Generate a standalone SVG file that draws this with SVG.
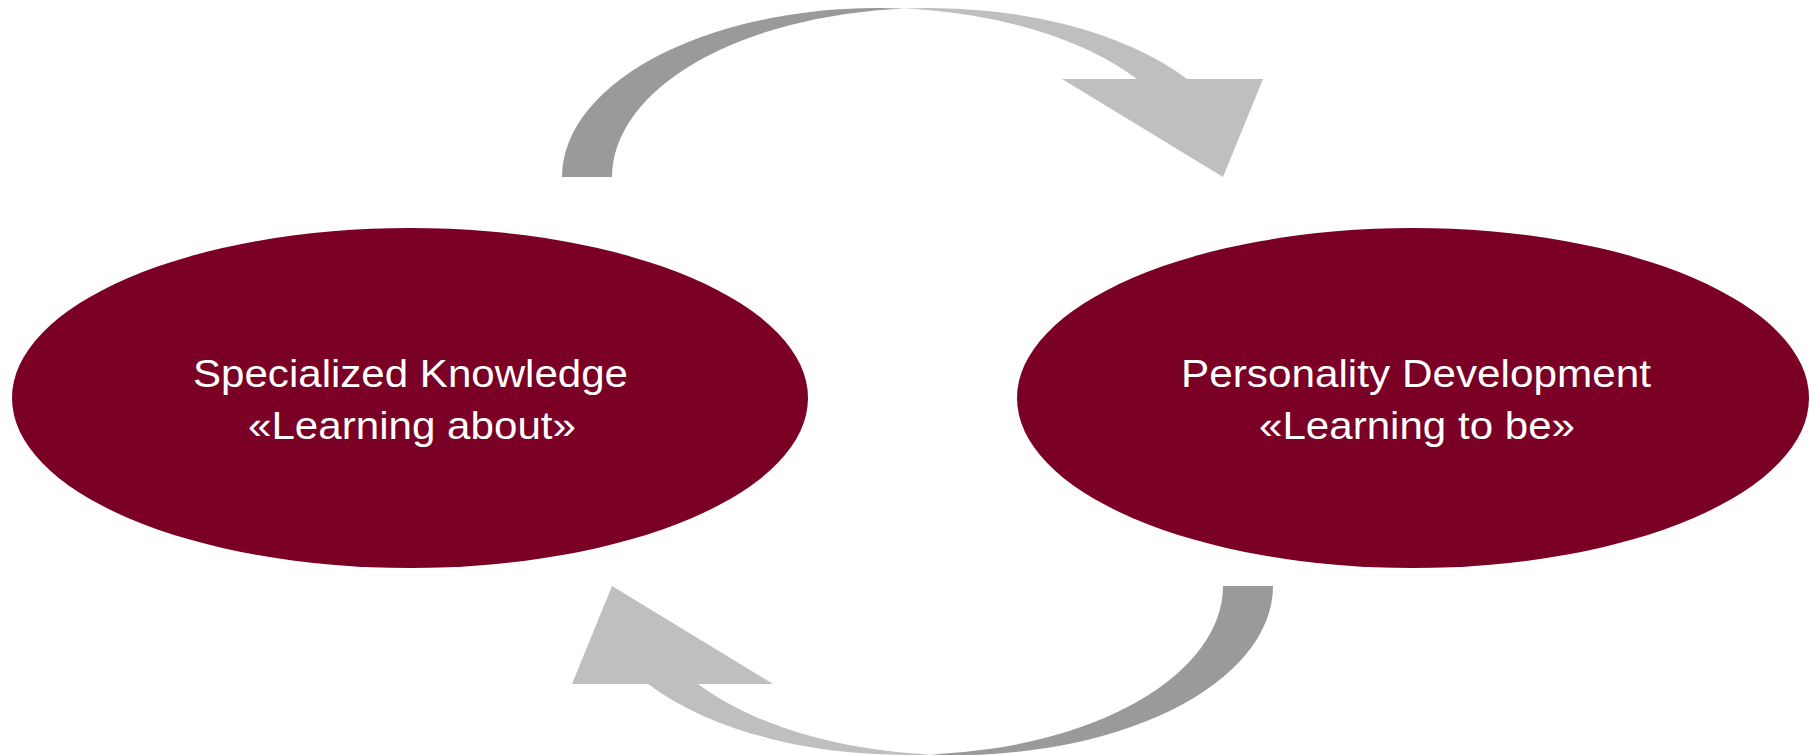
<svg xmlns="http://www.w3.org/2000/svg" width="1810" height="756" viewBox="0 0 1810 756">
  <style>
    .node { fill: #7A0026; }
    .label { font-family: "Liberation Sans", Arial, sans-serif; font-size: 39px; fill: #FFFFFF; text-anchor: middle; }
    .back { fill: #9A9A9A; }
    .front { fill: #BFBFBF; }
  </style>
  <defs>
    <g id="curvedArrow">
      <path class="back" d="M562,177 A316.8,169 0 0 1 903.8,8.5 A316.8,169 0 0 0 612,177 Z"/>
      <path class="front" d="M903.8,8.5 A316.8,169 0 0 1 1187,79 L1263,79 L1223,177 L1062,79 L1137,79 A316.8,169 0 0 0 903.8,8.5 Z"/>
    </g>
  </defs>
  <rect width="1810" height="756" fill="#FFFFFF"/>
  <g id="connectors">
    <use id="arrow-top" href="#curvedArrow"/>
    <use id="arrow-bottom" href="#curvedArrow" transform="rotate(180 917.5 381.5)"/>
  </g>
  <g id="node-specialized">
    <ellipse class="node" cx="410" cy="398" rx="398" ry="170"/>
    <text class="label" x="410.5" y="387" textLength="435" lengthAdjust="spacingAndGlyphs">Specialized Knowledge</text>
    <text class="label" x="412" y="439" textLength="328" lengthAdjust="spacingAndGlyphs">«Learning about»</text>
  </g>
  <g id="node-personality">
    <ellipse class="node" cx="1413" cy="398" rx="396" ry="170"/>
    <text class="label" x="1416" y="387" textLength="470" lengthAdjust="spacingAndGlyphs">Personality Development</text>
    <text class="label" x="1417" y="439" textLength="316" lengthAdjust="spacingAndGlyphs">«Learning to be»</text>
  </g>
</svg>
